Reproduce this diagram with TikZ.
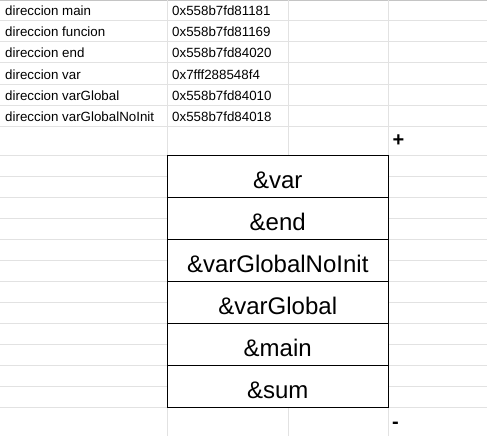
\documentclass[tikz,border=0pt]{standalone}
\usepackage{fontspec}
\setmainfont{Liberation Sans}
\usetikzlibrary{positioning}
\definecolor{gridgray}{HTML}{E2E2E2}
\definecolor{topgray}{HTML}{C4C4C4}
\tikzset{
  grid line/.style={color=gridgray, line width=1pt},
  celltext/.style={anchor=base west, inner sep=0pt, font=\fontsize{13.33}{15}\selectfont},
  stackcell/.style={draw=black, line width=1pt, fill=white, outer sep=0pt, inner sep=0pt,
    minimum width=221.5pt, minimum height=42pt, text height=24pt, text depth=0pt,
    font=\fontsize{24}{28}\selectfont},
  signtext/.style={anchor=base west, inner sep=0pt, font=\fontsize{20}{22}\bfseries\selectfont}
}
\begin{document}
\begin{tikzpicture}[x=1pt,y=-1pt]
\useasboundingbox (0,0) rectangle (487,436);
\fill[white] (0,0) rectangle (487,436);
% Drawing grid
\draw[color=topgray] (0,0.5) -- (487,0.5);
\foreach \y in {21,42,...,126} \draw[grid line] (0,\y) -- (487,\y);
\foreach \y in {155,176,...,407} \draw[grid line] (0,\y) -- (487,\y);
\foreach \x in {167,288,388} \draw[grid line] (\x,0) -- (\x,436);
% Done with grid; drawing address table
\foreach \name/\addr [count=\r] in {main/0x558b7fd81181, funcion/0x558b7fd81169,
    end/0x558b7fd84020, var/0x7fff288548f4, varGlobal/0x558b7fd84010,
    varGlobalNoInit/0x558b7fd84018} {
  \node[celltext] (lbl\r) at (5,{21*\r-5}) {direccion \name};
  \node[celltext] (adr\r) at (172,{21*\r-5}) {\addr};
}
% Done with table; drawing memory stack
\node[stackcell] (var) at (277.75,176) {\&var};
\node[stackcell, below=0pt of var] (end) {\&end};
\node[stackcell, below=0pt of end] (varGlobalNoInit) {\&varGlobalNoInit};
\node[stackcell, below=0pt of varGlobalNoInit] (varGlobal) {\&varGlobal};
\node[stackcell, below=0pt of varGlobal] (main) {\&main};
\node[stackcell, below=0pt of main] (sum) {\&sum};
% Done with stack; drawing signs
\node[signtext] (plus) at (392.5,146.5) {+};
\node[signtext] (minus) at (392,428) {-};
\end{tikzpicture}
\end{document}
